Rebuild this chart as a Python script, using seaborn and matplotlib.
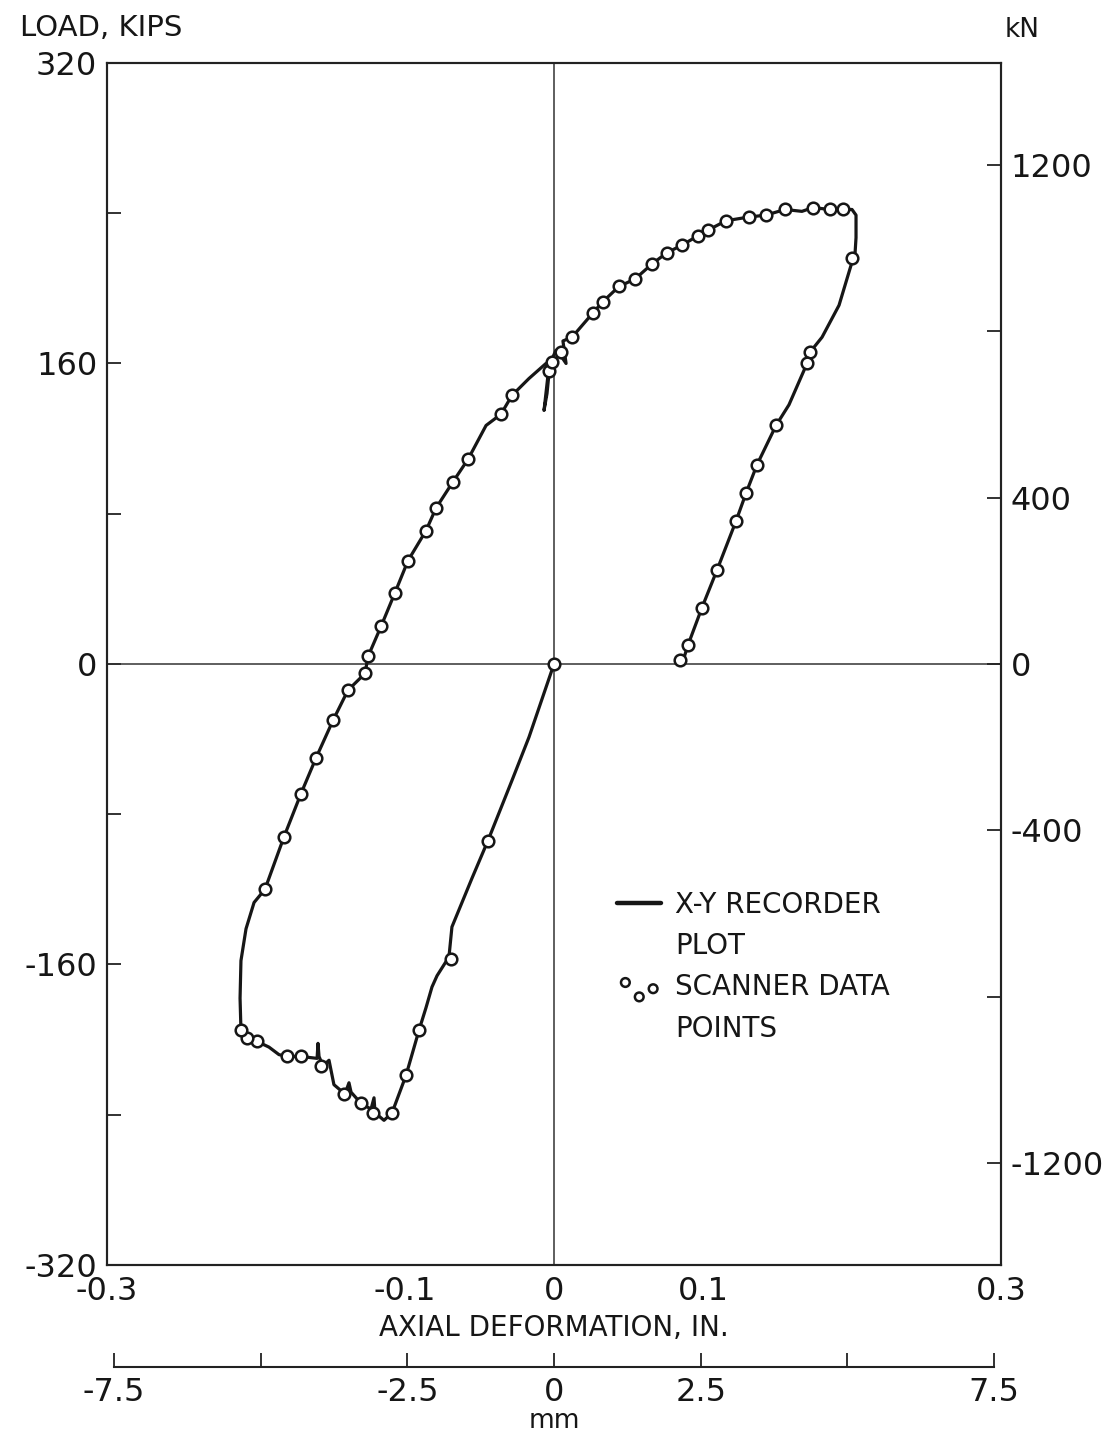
import matplotlib
matplotlib.use("Agg")
import matplotlib.pyplot as plt
from matplotlib.lines import Line2D
import seaborn as sns
import pandas as pd

# X-Y recorder trace (axial deformation in inches, load in kips), in drawing order
recorder_x = [0.0, -0.0168, -0.0282, -0.0443, -0.0550, -0.0685, -0.0705, -0.0785, -0.0819,
              -0.0859, -0.0906, -0.0993, -0.1087, -0.1141, -0.1201, -0.1208, -0.1228, -0.1295,
              -0.1362, -0.1376, -0.1403, -0.1477, -0.1510, -0.1550, -0.1577, -0.1584, -0.1590,
              -0.1698, -0.1792, -0.1846, -0.1913, -0.1993, -0.2060, -0.2101, -0.2107, -0.2101,
              -0.2067, -0.2013, -0.1940, -0.1812, -0.1698, -0.1597, -0.1483, -0.1383, -0.1268,
              -0.1248, -0.1161, -0.1067, -0.0980, -0.0859, -0.0792, -0.0678, -0.0577, -0.0456,
              -0.0356, -0.0282, -0.0168, -0.0054, -0.0040, -0.0067, -0.0047, -0.0027, 0.0013,
              0.0047, 0.0081, 0.0060, 0.0121, 0.0262, 0.0329, 0.0436, 0.0544, 0.0658, 0.0758,
              0.0859, 0.0966, 0.1034, 0.1154, 0.1309, 0.1423, 0.1550, 0.1664, 0.1738, 0.1852,
              0.1940, 0.2000, 0.2027, 0.2027, 0.2020, 0.2000, 0.1913, 0.1799, 0.1718, 0.1698,
              0.1577, 0.1490, 0.1362, 0.1289, 0.1221, 0.1094, 0.0993, 0.0899, 0.0859]
recorder_load = [0, -39, -62, -94, -114, -140, -156, -166, -172,
                 -183, -195, -219, -239, -243, -239, -231, -237, -234,
                 -228, -223, -229, -224, -211, -214, -209, -202, -210,
                 -209, -209, -208, -204, -201, -199, -195, -178, -158,
                 -141, -127, -120, -92, -69, -50, -30, -14, -5,
                 4, 20, 38, 55, 71, 83, 97, 109, 127,
                 133, 143, 152, 160, 154, 135, 144, 160, 167,
                 164, 160, 172, 174, 187, 193, 201, 205, 213, 219,
                 223, 228, 231, 236, 238, 239, 242, 241, 243, 242,
                 242, 242, 239, 227, 218, 214, 191, 174, 166, 160,
                 138, 127, 106, 91, 76, 50, 30, 10, 0]

# scanner data points
scanner_x = [0.0, -0.0443, -0.0690, -0.0906, -0.0993, -0.1087, -0.1215, -0.1295, -0.1410,
             -0.1564, -0.1698, -0.1792, -0.1993, -0.2060, -0.2101,
             -0.1940, -0.1812, -0.1698, -0.1597, -0.1483, -0.1383, -0.1268, -0.1248, -0.1161,
             -0.1067, -0.0980, -0.0859, -0.0792, -0.0678, -0.0577, -0.0356, -0.0282, -0.0034,
             -0.0013, 0.0047, 0.0121, 0.0262, 0.0329, 0.0436, 0.0544, 0.0658, 0.0758, 0.0859,
             0.0966, 0.1034, 0.1154, 0.1309, 0.1423, 0.1550, 0.1738, 0.1852, 0.1940, 0.2000,
             0.1718, 0.1698, 0.1490, 0.1362, 0.1289, 0.1221, 0.1094, 0.0993, 0.0899, 0.0846]
scanner_load = [0, -94, -157, -195, -219, -239, -239, -234, -229,
                -214, -209, -209, -201, -199, -195,
                -120, -92, -69, -50, -30, -14, -5, 4, 20,
                38, 55, 71, 83, 97, 109, 133, 143, 156,
                161, 166, 174, 187, 193, 201, 205, 213, 219, 223,
                228, 231, 236, 238, 239, 242, 243, 242, 242, 216,
                166, 160, 127, 106, 91, 76, 50, 30, 10, 2]

load_ticks = [-320, -240, -160, -80, 0, 80, 160, 240, 320]
load_labels = ["-320", "", "-160", "", "0", "", "160", "", "320"]
kn_ticks = [-1200, -800, -400, 0, 400, 800, 1200]
kn_labels = ["-1200", "", "-400", "0", "400", "", "1200"]
in_ticks = [-0.3, -0.2, -0.1, 0, 0.1, 0.2, 0.3]
in_labels = ["-0.3", "", "-0.1", "0", "0.1", "", "0.3"]
mm_ticks = [-7.5, -5, -2.5, 0, 2.5, 5, 7.5]
mm_labels = ["-7.5", "", "-2.5", "0", "2.5", "", "7.5"]

INK = "#161616"

sns.set_style("white")
plt.rcParams["font.family"] = ["DejaVu Sans"]

fig = plt.figure(figsize=(11.1, 14.35), dpi=100)
ax = fig.add_axes([0.0964, 0.1185, 0.8054, 0.8376])

trace = pd.DataFrame({"x": recorder_x, "load": recorder_load})
scan = pd.DataFrame({"x": scanner_x, "load": scanner_load})

ax.axhline(0, color="#333333", lw=1.1, zorder=1)
ax.axvline(0, color="#333333", lw=1.1, zorder=1)

sns.lineplot(data=trace, x="x", y="load", sort=False, estimator=None, color=INK,
             lw=2.3, ax=ax, label="X-Y RECORDER", zorder=2)
sns.scatterplot(data=scan, x="x", y="load", marker="o", s=70, facecolor="white",
                edgecolor=INK, linewidth=1.8, ax=ax, label="SCANNER DATA", zorder=3)

ax.set_xlim(-0.3, 0.3)
ax.set_ylim(-320, 320)
ax.set_xticks(in_ticks)
ax.set_xticklabels(in_labels)
ax.set_yticks(load_ticks)
ax.set_yticklabels(load_labels)
ax.set_xlabel("AXIAL DEFORMATION, IN.", fontsize=20, labelpad=5, color=INK)
ax.set_ylabel("")
ax.tick_params(axis="both", direction="in", length=10, width=1.3, labelsize=23, pad=7,
               color="#222222", labelcolor=INK)
ax.tick_params(axis="x", pad=8)
for sp in ax.spines.values():
    sp.set_linewidth(1.5)
    sp.set_color("#222222")

ax2 = ax.twinx()
ax2.set_ylim(-1445, 1445)
ax2.set_yticks(kn_ticks)
ax2.set_yticklabels(kn_labels)
ax2.tick_params(axis="y", direction="in", length=10, width=1.3, labelsize=23, pad=7,
                color="#222222", labelcolor=INK)
for sp in ax2.spines.values():
    sp.set_linewidth(1.5)
    sp.set_color("#222222")

secax = ax.secondary_xaxis(-0.085, functions=(lambda v: v * 25.4, lambda v: v / 25.4))
secax.set_xticks(mm_ticks)
secax.set_xticklabels(mm_labels)
secax.tick_params(axis="x", direction="in", length=10, width=1.3, labelsize=23, pad=7,
                  color="#222222", labelcolor=INK)
secax.spines["bottom"].set_bounds(-7.5, 7.5)
secax.spines["bottom"].set_linewidth(1.5)
secax.spines["bottom"].set_color("#222222")
secax.set_xlabel("mm", fontsize=19, labelpad=0, color=INK)

# legend: each label split over two rows, marks on the first row
handles, labels = ax.get_legend_handles_labels()
blank = Line2D([], [], alpha=0)
leg = ax.legend([handles[0], blank, handles[1], blank],
                ["X-Y RECORDER", "PLOT", "SCANNER DATA", "POINTS"],
                loc="upper left", bbox_to_anchor=(0.5705, 0.3114), frameon=False, fontsize=20,
                scatterpoints=3, scatteryoffsets=[0.66, -0.08, 0.34], handlelength=1.6,
                handletextpad=0.5, labelspacing=0.48, markerscale=0.75,
                borderpad=0, borderaxespad=0)
for t in leg.get_texts():
    t.set_color(INK)
leg.legend_handles[0].set_linewidth(3.2)

fig.text(20 / 1110, 1 - 28 / 1435, "LOAD, KIPS", fontsize=21, ha="left", va="center", color=INK)
fig.text(1005 / 1110, 1 - 30 / 1435, "kN", fontsize=19, ha="left", va="center", color=INK)

fig.savefig("out.png", dpi=100, facecolor="white")
